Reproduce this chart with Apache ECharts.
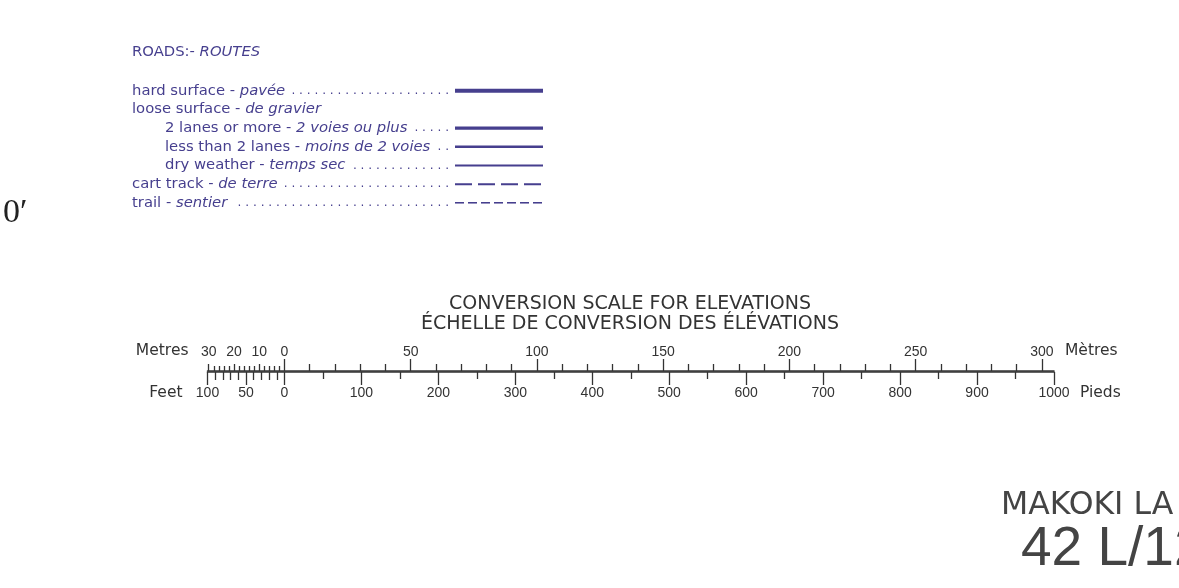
<!DOCTYPE html>
<html>
<head>
<meta charset="utf-8">
<script src="https://cdn.jsdelivr.net/npm/echarts@6/dist/echarts.min.js"></script>
<style>
html,body{margin:0;padding:0;background:#ffffff;}
#c{width:1179px;height:588px;}
</style>
</head>
<body>
<div id="c"></div>
<script>
// ---------- Roads legend data ----------
const roadKeys = ['hard', 'loose', 'lanes2', 'less2', 'dry', 'cart', 'trail'];
const roadEnglish = ['hard surface', 'loose surface', '2 lanes or more', 'less than 2 lanes', 'dry weather', 'cart track', 'trail'];
const roadFrench = ['pavée', 'de gravier', '2 voies ou plus', 'moins de 2 voies', 'temps sec', 'de terre', 'sentier'];
const roadIndented = [false, false, true, true, true, false, false];
const roadHasSymbol = [true, false, true, true, true, true, true];

// ---------- Conversion scale data ----------
const feetPerMetre = 3.28084;
const feetMin = -100;
const feetMax = 1000;
const feetMajorTicks = [-100, -50, 0, 100, 200, 300, 400, 500, 600, 700, 800, 900, 1000];
const feetLabels = [-100, -50, 0, 100, 200, 300, 400, 500, 600, 700, 800, 900, 1000];
const feetHalfTicks = [50, 150, 250, 350, 450, 550, 650, 750, 850, 950];
const feetFineTicks = [-90, -80, -70, -60, -40, -30, -20, -10];
const metreMajorTicks = [0, 50, 100, 150, 200, 250, 300];
const metreLabels = [-30, -20, -10, 0, 50, 100, 150, 200, 250, 300];
const metreTenTicks = [-30, -20, -10, 10, 20, 30, 40, 60, 70, 80, 90, 110, 120, 130, 140, 160, 170, 180, 190, 210, 220, 230, 240, 260, 270, 280, 290];
const metreFineTicks = [-28, -26, -24, -22, -18, -16, -14, -12, -8, -6, -4, -2];

// ---------- Styles ----------
const INK = '#333333';
const ROAD = '#463f8e';
const LEG_FONT = 'DejaVu Sans';
const LEG_SIZE = 14.8;
const DOT_SIZE = 12.1;
const LABEL_X = 132, INDENT = 33, LINE_X = 455, LINE_W = 88, DOTS_END = 449;
const roadLineStyles = {
  hard: {width: 4.2, type: 'solid'},
  lanes2: {width: 3.2, type: 'solid'},
  less2: {width: 2.6, type: 'solid'},
  dry: {width: 1.9, type: 'solid'},
  cart: {width: 1.9, type: [17, 6]},
  trail: {width: 1.9, type: [9, 4]}
};

const mctx = document.createElement('canvas').getContext('2d');
function textWidth(t, italic, size) {
  mctx.font = (italic ? 'italic ' : 'normal ') + 'normal ' + (size || LEG_SIZE) + 'px ' + LEG_FONT;
  return mctx.measureText(t).width;
}

const legendRich = {
  en: {fontFamily: LEG_FONT, fontSize: LEG_SIZE, color: ROAD},
  enInd: {fontFamily: LEG_FONT, fontSize: LEG_SIZE, color: ROAD, padding: [0, 0, 0, INDENT]},
  fr: {fontFamily: LEG_FONT, fontSize: LEG_SIZE, color: ROAD, fontStyle: 'italic'}
};
const legendLabels = roadKeys.map(function (k, i) {
  const en = roadEnglish[i] + ' - ';
  const fr = roadFrench[i];
  let s = '{' + (roadIndented[i] ? 'enInd' : 'en') + '|' + en + '}{fr|' + fr + '}';
  if (roadHasSymbol[i]) {
    const start = LABEL_X + (roadIndented[i] ? INDENT : 0) + textWidth(en, false) + textWidth(fr, true);
    const avail = DOTS_END - start;
    const pitch = textWidth('. ', false, DOT_SIZE);
    const dotW = textWidth('.', false, DOT_SIZE);
    const n = Math.max(1, Math.floor((avail - 4 - dotW) / pitch) + 1);
    const dots = new Array(n).fill('.').join(' ');
    legendRich['d' + i] = {fontFamily: LEG_FONT, fontSize: DOT_SIZE, color: ROAD, width: avail, align: 'right'};
    s += '{d' + i + '|' + dots + '}';
  }
  return s;
});

// ---------- Scale axes helpers ----------
const SCALE_GRID = {left: 207.5, width: 846.5, top: 371, height: 1};
const numFont = {fontFamily: 'Liberation Sans', fontSize: 14, color: INK};
const unitFont = {fontFamily: 'DejaVu Sans', fontSize: 15.5, color: INK, fontWeight: 'normal'};

function metreAxis(gridIndex, ticks, len, extra) {
  return Object.assign({
    gridIndex: gridIndex, type: 'value', position: 'top',
    min: feetMin / feetPerMetre, max: feetMax / feetPerMetre,
    axisLine: {show: false, onZero: false},
    axisTick: {show: ticks.length > 0, customValues: ticks, length: len, lineStyle: {color: INK, width: 1.3}},
    axisLabel: {show: false},
    splitLine: {show: false}
  }, extra || {});
}
function feetAxis(gridIndex, ticks, len, extra) {
  return Object.assign({
    gridIndex: gridIndex, type: 'value', position: 'bottom',
    min: feetMin, max: feetMax,
    axisLine: {show: false, onZero: false},
    axisTick: {show: ticks.length > 0, customValues: ticks, length: len, lineStyle: {color: INK, width: 1.3}},
    axisLabel: {show: false},
    splitLine: {show: false}
  }, extra || {});
}
function hiddenY(gridIndex) {
  return {gridIndex: gridIndex, type: 'value', min: 0, max: 1, show: false};
}

const series = [];
roadKeys.forEach(function (k, i) {
  if (!roadHasSymbol[i]) return;
  const ls = roadLineStyles[k];
  series.push({
    type: 'line', xAxisIndex: 0, yAxisIndex: 0, silent: true, animation: false,
    symbol: 'none', data: [[0, k], [1, k]],
    lineStyle: {color: ROAD, width: ls.width, type: ls.type, cap: 'butt'}
  });
});

const option = {
  backgroundColor: '#ffffff',
  animation: false,
  title: [
    {
      text: 'CONVERSION SCALE FOR ELEVATIONS',
      subtext: 'ÉCHELLE DE CONVERSION DES ÉLÉVATIONS',
      left: 630, top: 295, textAlign: 'center', padding: 0, itemGap: 1,
      textStyle: {fontFamily: 'DejaVu Sans', fontSize: 19, fontWeight: 'normal', color: INK},
      subtextStyle: {fontFamily: 'DejaVu Sans', fontSize: 19, fontWeight: 'normal', color: INK}
    },
    {
      text: '{a|ROADS:- }{b|ROUTES}',
      left: LABEL_X, top: 45, padding: 0,
      textStyle: {
        fontWeight: 'normal',
        rich: {
          a: {fontFamily: LEG_FONT, fontSize: LEG_SIZE, color: ROAD, fontWeight: 'normal'},
          b: {fontFamily: LEG_FONT, fontSize: LEG_SIZE, color: ROAD, fontWeight: 'normal', fontStyle: 'italic'}
        }
      }
    },
    {
      text: '0′', left: 3, top: 196, padding: 0,
      textStyle: {fontFamily: 'Liberation Serif', fontSize: 34, fontWeight: 'normal', color: '#222222'}
    },
    {
      text: 'MAKOKI LA', left: 1001, top: 490, padding: 0,
      textStyle: {fontFamily: 'DejaVu Sans', fontSize: 31.5, fontWeight: 'normal', color: '#444444'}
    },
    {
      text: '42 L/12', left: 1021, top: 522, padding: 0,
      textStyle: {fontFamily: 'Liberation Sans', fontSize: 55, fontWeight: 'normal', color: '#444444'}
    }
  ],
  grid: [
    {left: LINE_X, width: LINE_W, top: 90.7, height: 112.2},
    SCALE_GRID, SCALE_GRID, SCALE_GRID, SCALE_GRID, SCALE_GRID
  ],
  xAxis: [
    {gridIndex: 0, type: 'value', min: 0, max: 1, show: false},
    // grid 1: major ticks, numeric labels, axis line
    metreAxis(1, metreMajorTicks, 12, {
      axisLine: {show: true, onZero: false, lineStyle: {color: INK, width: 1.5}},
      axisLabel: Object.assign({show: true, customValues: metreLabels, margin: 12,
        formatter: function (v) { return String(Math.abs(Math.round(v))); }}, numFont)
    }),
    feetAxis(1, feetMajorTicks, 13, {
      axisLine: {show: true, onZero: false, lineStyle: {color: INK, width: 1.5}},
      axisLabel: Object.assign({show: true, customValues: feetLabels, margin: 14,
        formatter: function (v) { return String(Math.abs(Math.round(v))); }}, numFont)
    }),
    // grid 2: medium ticks
    metreAxis(2, metreTenTicks, 7),
    feetAxis(2, feetHalfTicks, 7),
    // grid 3: fine ticks of the left extension
    metreAxis(3, metreFineTicks, 5),
    feetAxis(3, feetFineTicks, 8),
    // grid 4: unit names at the start (English)
    metreAxis(4, [], 0, {offset: 20, name: 'Metres', nameLocation: 'start', nameGap: 19,
      nameTextStyle: Object.assign({align: 'right', verticalAlign: 'middle'}, unitFont)}),
    feetAxis(4, [], 0, {offset: 21, name: 'Feet', nameLocation: 'start', nameGap: 25,
      nameTextStyle: Object.assign({align: 'right', verticalAlign: 'middle'}, unitFont)}),
    // grid 5: unit names at the end (French)
    metreAxis(5, [], 0, {offset: 20, name: 'Mètres', nameLocation: 'end', nameGap: 11,
      nameTextStyle: Object.assign({align: 'left', verticalAlign: 'middle'}, unitFont)}),
    feetAxis(5, [], 0, {offset: 21, name: 'Pieds', nameLocation: 'end', nameGap: 26,
      nameTextStyle: Object.assign({align: 'left', verticalAlign: 'middle'}, unitFont)})
  ],
  yAxis: [
    {
      gridIndex: 0, type: 'category', data: roadKeys, inverse: true, boundaryGap: false,
      axisLine: {show: false}, axisTick: {show: false}, splitLine: {show: false},
      axisLabel: {
        show: true, interval: 0, align: 'left', margin: LINE_X - LABEL_X,
        formatter: function (v, i) { return legendLabels[i]; },
        rich: legendRich
      }
    },
    hiddenY(1), hiddenY(2), hiddenY(3), hiddenY(4), hiddenY(5)
  ],
  series: series
};

const chart = echarts.init(document.getElementById('c'), null, {renderer: 'canvas'});
chart.setOption(option);
</script>
</body>
</html>
